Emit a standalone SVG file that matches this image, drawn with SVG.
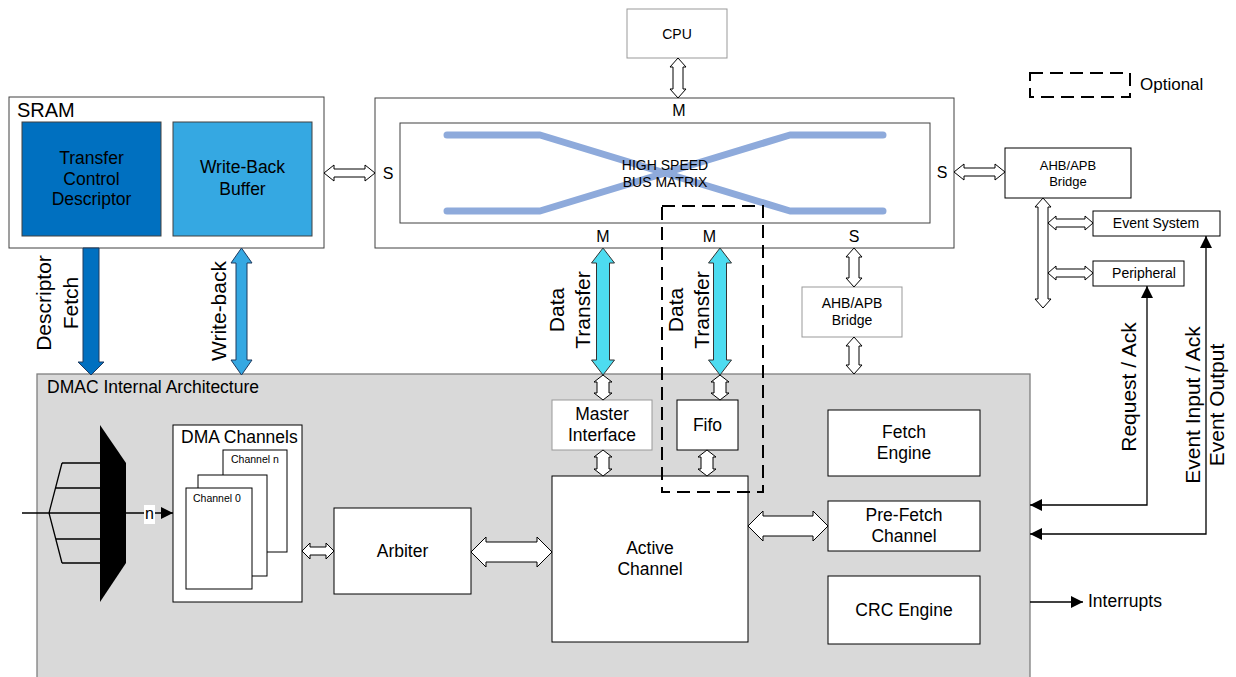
<svg xmlns="http://www.w3.org/2000/svg" width="1236" height="677" viewBox="0 0 1236 677">
<style>
text{font-family:"Liberation Sans",Arial,sans-serif;fill:#000}
.box{fill:#fff;stroke:#000;stroke-width:1}
.gbox{fill:#fff;stroke:#999;stroke-width:1}
.dbox{fill:#fff;stroke:#404040;stroke-width:1}
.t17{font-size:17.5px;text-anchor:middle}
.t14{font-size:14px;text-anchor:middle}
.t13{font-size:13px;text-anchor:middle}
.lbl{font-size:16px;text-anchor:middle}
.rot{font-size:21px;text-anchor:middle}
.hol{fill:#fff;stroke:#000;stroke-width:1}
.wire{fill:none;stroke:#000;stroke-width:1.3}
.dash{fill:none;stroke:#000;stroke-width:2;stroke-dasharray:13 7}
.bus{fill:none;stroke:#8EAADB;stroke-width:7;stroke-linecap:round;stroke-linejoin:round}
</style>
<defs>
<marker id="arr" markerUnits="userSpaceOnUse" markerWidth="13" markerHeight="12" refX="12" refY="6" orient="auto-start-reverse">
<path d="M0,0 L12,6 L0,12 Z" fill="#000"/>
</marker>
</defs>
<rect width="1236" height="677" fill="#fff"/>

<g id="dmac">
<rect x="37" y="374" width="993" height="305" fill="#D9D9D9" stroke="#7F7F7F" stroke-width="1.3"/>
<text x="47" y="393" font-size="17.5px">DMAC Internal Architecture</text>
</g>

<g id="sram">
<rect x="9" y="97" width="315" height="151" class="dbox"/>
<text x="17" y="117" font-size="20px">SRAM</text>
</g>
<g id="tcd">
<rect x="22" y="122" width="139" height="114" fill="#0070C0" stroke="#404040"/>
<text class="t17" x="91.5" y="164">Transfer</text>
<text class="t17" x="91.5" y="185">Control</text>
<text class="t17" x="91.5" y="205">Descriptor</text>
</g>
<g id="wbb">
<rect x="173" y="122" width="139" height="114" fill="#35A8E2" stroke="#404040"/>
<text class="t17" x="242.5" y="173">Write-Back</text>
<text class="t17" x="242.5" y="195">Buffer</text>
</g>

<g id="busmatrix">
<rect x="375" y="98" width="579" height="150" class="dbox"/>
<rect x="400" y="123" width="530" height="100" class="dbox"/>
<path class="bus" d="M447,135 L540,135 L790,211 L883,211"/>
<path class="bus" d="M447,211 L540,211 L790,135 L883,135"/>
<text class="t14" x="665" y="170">HIGH SPEED</text>
<text class="t14" x="665" y="187">BUS MATRIX</text>
<text class="lbl" x="679" y="116">M</text>
<text class="lbl" x="388" y="179">S</text>
<text class="lbl" x="942" y="178">S</text>
<text class="lbl" x="603" y="242">M</text>
<text class="lbl" x="709.5" y="242">M</text>
<text class="lbl" x="854" y="242">S</text>
</g>

<g id="cpu">
<rect x="627" y="9" width="100" height="49" class="gbox"/>
<text class="t14" x="677" y="39">CPU</text>
</g>

<g id="legend">
<rect x="1030" y="73" width="100" height="24" class="dash"/>
<text x="1140" y="90" font-size="17px">Optional</text>
</g>

<g id="bridge1">
<rect x="1005" y="148" width="126" height="50" class="box"/>
<text class="t13" x="1068" y="170">AHB/APB</text>
<text class="t13" x="1068" y="186">Bridge</text>
</g>
<g id="eventsystem">
<rect x="1093" y="211" width="127" height="25" class="box"/>
<text class="t14" x="1156" y="228">Event System</text>
</g>
<g id="peripheral">
<rect x="1093" y="261" width="91" height="25" class="box"/>
<text class="t14" x="1144" y="278">Peripheral</text>
</g>

<g id="bridge2">
<rect x="802" y="287" width="100" height="50" class="gbox"/>
<text class="t14" x="852" y="308">AHB/APB</text>
<text class="t14" x="852" y="325">Bridge</text>
</g>

<g id="masterif">
<rect x="552" y="400" width="100" height="50" class="gbox"/>
<text class="t17" x="602" y="420">Master</text>
<text class="t17" x="602" y="441">Interface</text>
</g>
<g id="fifo">
<rect x="677" y="400" width="61" height="50" class="box"/>
<text class="t17" x="707.5" y="431">Fifo</text>
</g>
<g id="active">
<rect x="552" y="476" width="196" height="166" class="box"/>
<text class="t17" x="650" y="554">Active</text>
<text class="t17" x="650" y="575">Channel</text>
</g>
<g id="arbiter">
<rect x="334" y="508" width="137" height="86" class="box"/>
<text class="t17" x="402.5" y="557">Arbiter</text>
</g>
<g id="dmachannels">
<rect x="173" y="425" width="129" height="177" class="box"/>
<text x="181" y="443" font-size="17.5px">DMA Channels</text>
<rect x="223" y="450" width="64" height="102" class="box"/>
<text x="231" y="463" font-size="10.5px">Channel n</text>
<rect x="198" y="475" width="69" height="101" class="box"/>
<rect x="186" y="488" width="66" height="101" class="box"/>
<text x="193" y="502" font-size="10.5px">Channel 0</text>
</g>
<g id="mux">
<polygon points="100,425 126,463 126,563 100,602" fill="#000"/>
<path class="wire" d="M22,513 L100,513 M62,463 L49,513 L62,563 M62,463 L100,463 M56,488 L100,488 M56,539 L100,539 M62,563 L100,563"/>
</g>
<g id="fetch">
<rect x="828" y="410" width="152" height="66" class="box"/>
<text class="t17" x="904" y="438">Fetch</text>
<text class="t17" x="904" y="459">Engine</text>
</g>
<g id="prefetch">
<rect x="828" y="501" width="152" height="50" class="box"/>
<text class="t17" x="904" y="521">Pre-Fetch</text>
<text class="t17" x="904" y="542">Channel</text>
</g>
<g id="crc">
<rect x="828" y="576" width="152" height="68" class="box"/>
<text class="t17" x="904" y="616">CRC Engine</text>
</g>

<g id="connectors">
<path d="M83,248 L99,248 L99,362 L104,362 L91,375 L78,362 L83,362 Z" fill="#0070C0" stroke="#1F3A5F"/>
<path d="M241.5,248 L252,263 L247,263 L247,360 L252,360 L241.5,375 L231,360 L236,360 L236,263 L231,263 Z" fill="#35A8E2" stroke="#1F3A5F"/>
<path d="M603,248 L614.5,263 L609.5,263 L609.5,360 L614.5,360 L603,375 L591.5,360 L596.5,360 L596.5,263 L591.5,263 Z" fill="#4DDCF0" stroke="#333"/>
<path d="M720,248 L731.5,263 L726.5,263 L726.5,360 L731.5,360 L720,375 L708.5,360 L713.5,360 L713.5,263 L708.5,263 Z" fill="#4DDCF0" stroke="#333"/>

<path class="hol" d="M324,173 L334,165 L334,169 L365,169 L365,165 L375,173 L365,181 L365,177 L334,177 L334,181 Z"/>
<path class="hol" d="M954,172 L964,164 L964,168 L995,168 L995,164 L1005,172 L995,180 L995,176 L964,176 L964,180 Z"/>
<path class="hol" d="M1048,223 L1056,216 L1056,219 L1085,219 L1085,216 L1093,223 L1085,230 L1085,227 L1056,227 L1056,230 Z"/>
<path class="hol" d="M1048,273 L1056,266 L1056,269 L1085,269 L1085,266 L1093,273 L1085,280 L1085,277 L1056,277 L1056,280 Z"/>
<path class="hol" d="M302,551 L310,543 L310,547 L326,547 L326,543 L334,551 L326,559 L326,555 L310,555 L310,559 Z"/>
<path class="hol" d="M471,552 L486,537 L486,542 L537,542 L537,537 L552,552 L537,567 L537,562 L486,562 L486,567 Z"/>
<path class="hol" d="M748,526 L763,511 L763,516 L813,516 L813,511 L828,526 L813,541 L813,536 L763,536 L763,541 Z"/>
<path class="hol" d="M678,58 L686,67 L683,67 L683,89 L686,89 L678,98 L670,89 L673,89 L673,67 L670,67 Z"/>
<path class="hol" d="M1043,198 L1051,207 L1048,207 L1048,299 L1051,299 L1043,308 L1035,299 L1038,299 L1038,207 L1035,207 Z"/>
<path class="hol" d="M854,248 L862,257 L859,257 L859,278 L862,278 L854,287 L846,278 L849,278 L849,257 L846,257 Z"/>
<path class="hol" d="M854,337 L862,346 L859,346 L859,365 L862,365 L854,374 L846,365 L849,365 L849,346 L846,346 Z"/>
<path class="hol" d="M603,375 L612,382 L609,382 L609,393 L612,393 L603,400 L594,393 L597,393 L597,382 L594,382 Z"/>
<path class="hol" d="M603,450 L612,457 L609,457 L609,469 L612,469 L603,476 L594,469 L597,469 L597,457 L594,457 Z"/>
<path class="hol" d="M720,375 L729,382 L726,382 L726,393 L729,393 L720,400 L711,393 L714,393 L714,382 L711,382 Z"/>
<path class="hol" d="M707,450 L716,457 L713,457 L713,469 L716,469 L707,476 L698,469 L701,469 L701,457 L698,457 Z"/>

<path class="wire" d="M1147,286 L1147,505 L1030,505" marker-start="url(#arr)" marker-end="url(#arr)"/>
<path class="wire" d="M1206,236 L1206,534 L1030,534" marker-start="url(#arr)" marker-end="url(#arr)"/>
<path class="wire" d="M1030,602 L1083,602" marker-end="url(#arr)"/>
<path class="wire" d="M126,513 L173,513" marker-end="url(#arr)"/>
<rect x="144" y="505" width="11" height="19" fill="#fff"/>
<text x="149.5" y="519" font-size="16px" text-anchor="middle">n</text>
<text x="1088" y="607" font-size="17.5px">Interrupts</text>

<text class="rot" transform="translate(0,303) rotate(-90)" x="0" y="51">Descriptor</text>
<text class="rot" transform="translate(0,303) rotate(-90)" x="0" y="78">Fetch</text>
<text class="rot" transform="translate(0,311) rotate(-90)" x="0" y="226">Write-back</text>
<text class="rot" transform="translate(0,310) rotate(-90)" x="0" y="564">Data</text>
<text class="rot" transform="translate(0,310) rotate(-90)" x="0" y="590">Transfer</text>
<text class="rot" transform="translate(0,310) rotate(-90)" x="0" y="683">Data</text>
<text class="rot" transform="translate(0,310) rotate(-90)" x="0" y="709">Transfer</text>
<text class="rot" transform="translate(0,387) rotate(-90)" x="0" y="1136">Request / Ack</text>
<text class="rot" transform="translate(0,405) rotate(-90)" x="0" y="1200">Event Input / Ack</text>
<text class="rot" transform="translate(0,405) rotate(-90)" x="0" y="1224">Event Output</text>
</g>

<g id="optional-region">
<rect x="662" y="206" width="101" height="286" class="dash"/>
</g>
</svg>
